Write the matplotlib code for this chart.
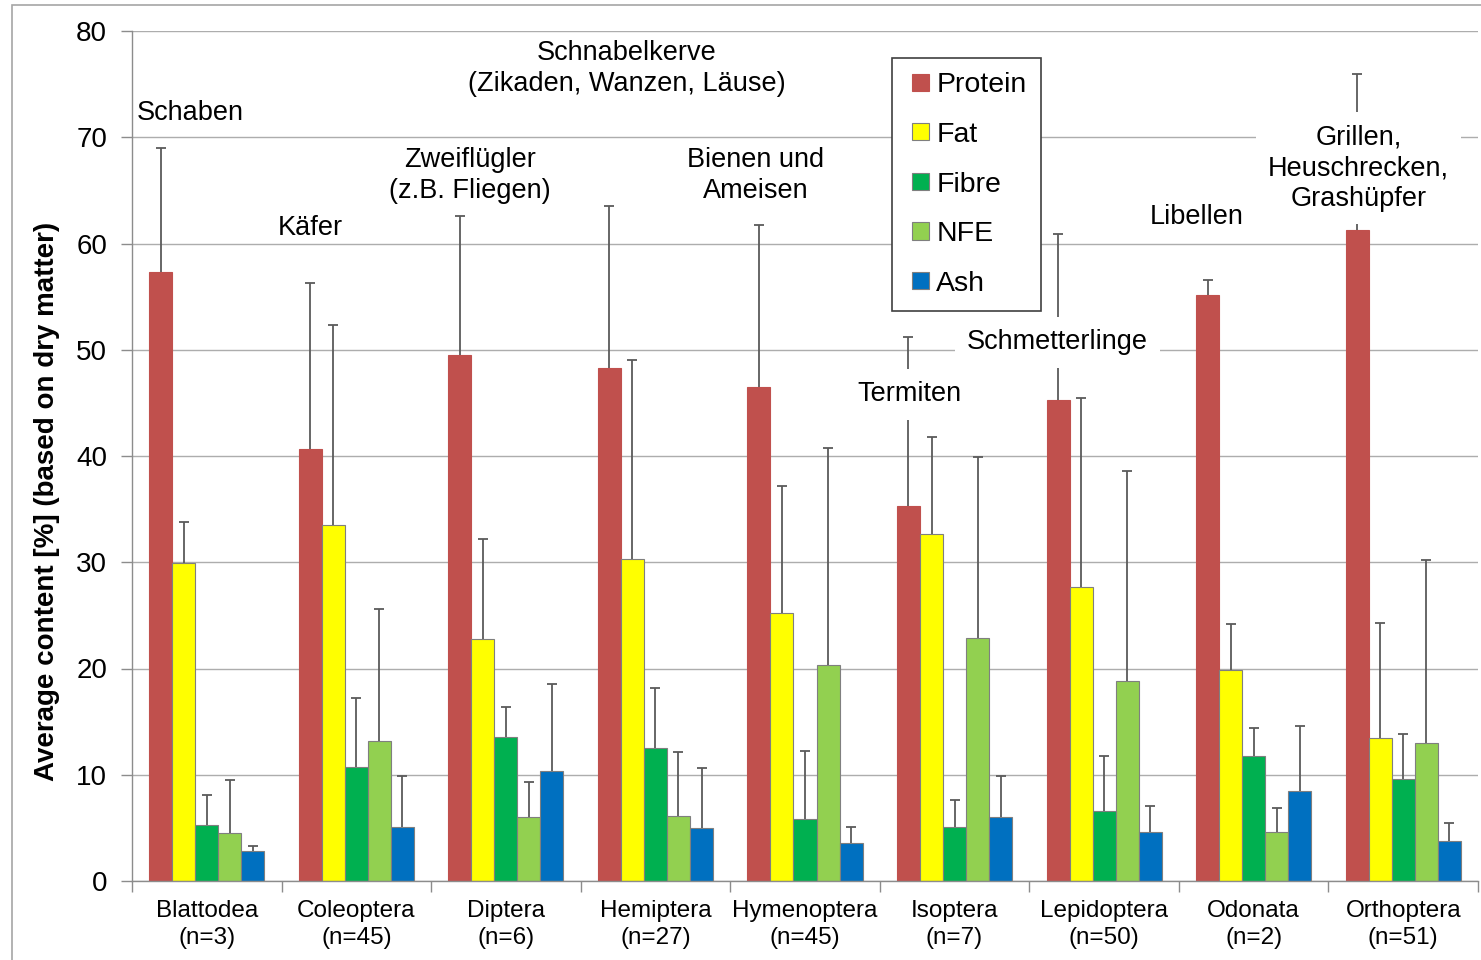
import numpy as np
import matplotlib
matplotlib.use("Agg")
import matplotlib.pyplot as plt
from matplotlib.patches import Rectangle, Patch
from matplotlib.legend_handler import HandlerPatch

plt.rcParams['font.family'] = ['Liberation Sans', 'DejaVu Sans']

# Insect orders and sample sizes
orders = ["Blattodea", "Coleoptera", "Diptera", "Hemiptera", "Hymenoptera",
          "Isoptera", "Lepidoptera", "Odonata", "Orthoptera"]
sample_sizes = [3, 45, 6, 27, 45, 7, 50, 2, 51]

# Mean content (% of dry matter)
protein = [57.3, 40.7, 49.5, 48.3, 46.5, 35.3, 45.3, 55.2, 61.3]
fat     = [29.9, 33.5, 22.8, 30.3, 25.2, 32.7, 27.7, 19.9, 13.5]
fibre   = [5.3, 10.7, 13.6, 12.5, 5.8, 5.1, 6.6, 11.8, 9.6]
nfe     = [4.5, 13.2, 6.0, 6.1, 20.3, 22.9, 18.8, 4.6, 13.0]
ash     = [2.8, 5.1, 10.4, 5.0, 3.6, 6.0, 4.6, 8.5, 3.8]

# Standard deviations
protein_sd = [11.7, 15.6, 13.1, 15.2, 15.2, 15.9, 15.6, 1.4, 14.7]
fat_sd     = [3.9, 18.8, 9.4, 18.7, 12.0, 9.1, 17.8, 4.3, 10.8]
fibre_sd   = [2.8, 6.5, 2.8, 5.7, 6.4, 2.5, 5.2, 2.6, 4.2]
nfe_sd     = [5.0, 12.4, 3.3, 6.0, 20.5, 17.0, 19.8, 2.3, 17.2]
ash_sd     = [0.5, 4.8, 8.1, 5.6, 1.5, 3.9, 2.5, 6.1, 1.7]

components = ["Protein", "Fat", "Fibre", "NFE", "Ash"]
colors = ["#C0504D", "#FFFF00", "#00B050", "#92D050", "#0070C0"]

# Common German names for each order
common_names = ["Schaben", "Käfer", "Zweiflügler\n(z.B. Fliegen)",
                "Schnabelkerve\n(Zikaden, Wanzen, Läuse)", "Bienen und\nAmeisen",
                "Termiten", "Schmetterlinge", "Libellen",
                "Grillen,\nHeuschrecken,\nGrashüpfer"]
# (x, y, white background) for each common-name label, in data units
name_layout = [(-0.11, 72.3, False), (0.69, 61.5, False), (1.76, 66.4, False),
               (2.81, 76.5, False), (3.67, 66.4, False), (4.70, 45.8, True),
               (5.69, 50.7, True), (6.62, 62.5, False), (7.70, 67.1, True)]

means = [protein, fat, fibre, nfe, ash]
sds = [protein_sd, fat_sd, fibre_sd, nfe_sd, ash_sd]

fig = plt.figure(figsize=(14.81, 9.6), dpi=100)
ax = fig.add_axes([132 / 1481, 1 - 881 / 960, 1346 / 1481, 850 / 960])

x = np.arange(len(orders))
w = 0.154
for k, (vals, err, col, name) in enumerate(zip(means, sds, colors, components)):
    pos = x + (k - 2) * w
    edge = col if k == 0 else "#7F7F7F"
    ax.bar(pos, vals, width=w, color=col, edgecolor=edge, linewidth=0.8,
           zorder=2, label=name)
    eb = ax.errorbar(pos, vals, yerr=[np.zeros(len(vals)), err], fmt="none",
                     ecolor="#5A5A5A", elinewidth=1.3, capsize=3.6,
                     capthick=1.3, zorder=3)
    # only the upper whisker carries a cap
    for cap in eb[1]:
        if np.allclose(cap.get_ydata(), vals):
            cap.set_visible(False)

for text, (tx, ty, boxed) in zip(common_names, name_layout):
    kw = {}
    if boxed:
        kw["bbox"] = dict(boxstyle="square,pad=0.45", facecolor="white",
                          edgecolor="none")
    ax.text(tx, ty, text, ha="center", va="center", fontsize=19.5,
            linespacing=1.25, zorder=5, **kw)

ax.set_xlim(-0.5, len(orders) - 0.5)
ax.set_ylim(0, 80)
ax.set_yticks(np.arange(0, 81, 10))
ax.tick_params(axis="y", labelsize=20, length=8, width=1, color="#8C8C8C",
               pad=10)
ax.set_xticks(x)
ax.set_xticklabels([f"{o}\n(n={n})" for o, n in zip(orders, sample_sizes)],
                   fontsize=17.5, linespacing=1.27)
ax.tick_params(axis="x", which="major", length=0, pad=14)
ax.set_xticks(np.arange(-0.5, len(orders), 1.0), minor=True)
ax.tick_params(axis="x", which="minor", length=8, width=1, color="#8C8C8C")

ax.grid(axis="y", color="#ADADAD", linewidth=1.0, zorder=0)
ax.set_axisbelow(True)
for side in ("top", "right"):
    ax.spines[side].set_visible(False)
for side in ("left", "bottom"):
    ax.spines[side].set_color("#8C8C8C")
    ax.spines[side].set_linewidth(1.0)

ax.set_ylabel("Average content [%] (based on dry matter)", fontsize=20,
              fontweight="bold")
ax.yaxis.set_label_coords(-0.0535, 0.447)


def square_key(legend, orig_handle, xdescent, ydescent, width, height, fontsize):
    # small square sitting at the right end of the key area
    side = height
    return Rectangle((width - side - xdescent, -ydescent), side, side)


handles = [Patch(facecolor=c, edgecolor=(c if i == 0 else "#7F7F7F"),
                 linewidth=0.8, label=n)
           for i, (c, n) in enumerate(zip(colors, components))]
leg = fig.legend(handles=handles, loc="upper left",
                 bbox_to_anchor=(892 / 1481, 1 - 58 / 960), fontsize=20.5,
                 frameon=True, fancybox=False, framealpha=1, edgecolor="#404040",
                 handlelength=0.8, handleheight=0.55, handletextpad=0.25,
                 labelspacing=0.83, borderpad=0.5, borderaxespad=0,
                 handler_map={Patch: HandlerPatch(patch_func=square_key)})
leg.get_frame().set_linewidth(1.2)
leg.set_zorder(6)

fig.add_artist(Rectangle((12 / 1481, -0.1), 1.2, 1.1 - 5 / 960,
                         transform=fig.transFigure, fill=False,
                         edgecolor="#A6A6A6", linewidth=1.2))

fig.savefig("out.png", dpi=100)
